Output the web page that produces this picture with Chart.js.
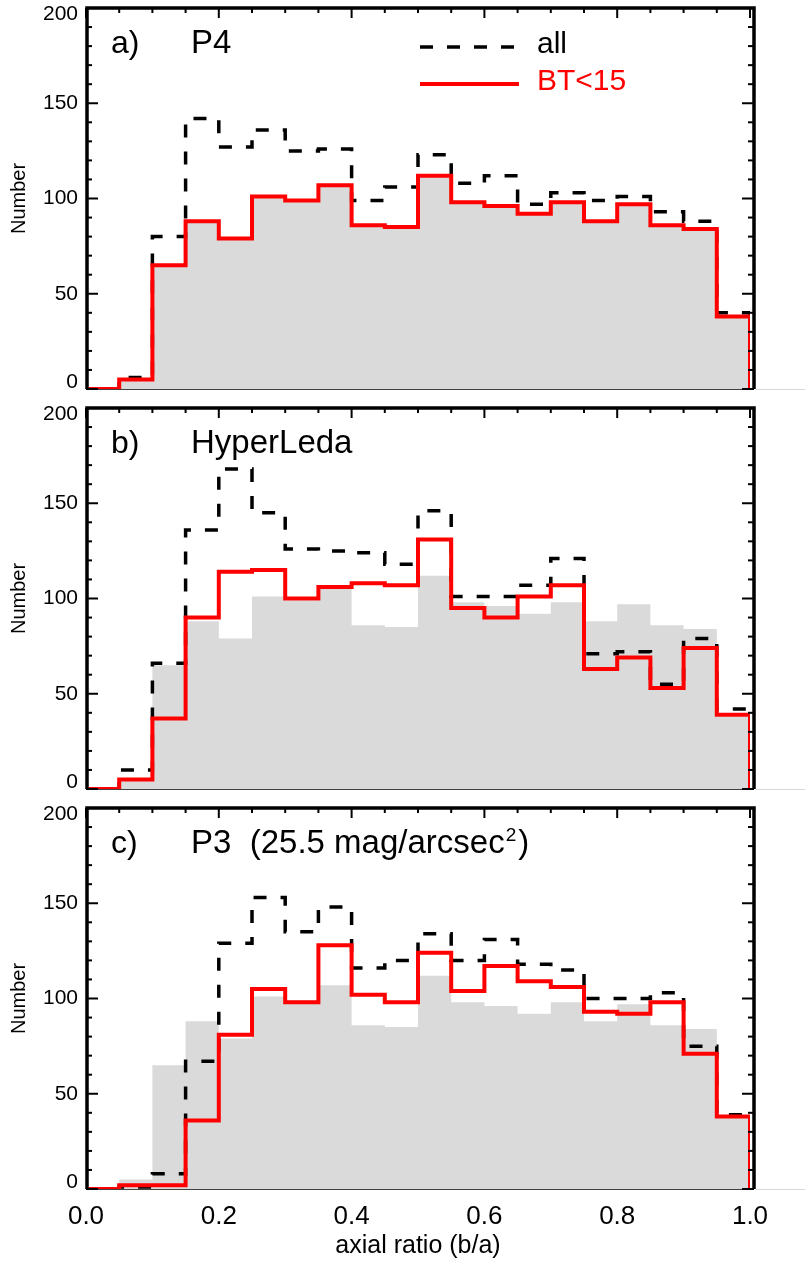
<!DOCTYPE html>
<html>
<head>
<meta charset="utf-8">
<script src="https://cdn.jsdelivr.net/npm/chart.js@4.4.1/dist/chart.umd.min.js"></script>
<style>
  body { margin: 0; background: #fff; }
  canvas { position: absolute; left: 0; }
</style>
</head>
<body>
<canvas id="panelA" width="805" height="400" style="top:0px"></canvas>
<canvas id="panelB" width="805" height="400" style="top:400px"></canvas>
<canvas id="panelC" width="805" height="464" style="top:800px"></canvas>
<script>
// bin left edges (bin width 0.05)
const binStart = [0.00, 0.05, 0.10, 0.15, 0.20, 0.25, 0.30, 0.35, 0.40, 0.45,
                  0.50, 0.55, 0.60, 0.65, 0.70, 0.75, 0.80, 0.85, 0.90, 0.95];
const binEnd = 1.0;

// P4 BT<15 (also the grey reference histogram in every panel)
const p4Bright = [0, 5, 65, 88, 79, 101, 99, 107, 86, 85, 112, 98, 96, 92, 98, 88, 97, 86, 84, 38];
const p4All    = [0, 6, 80, 142, 127, 136, 125, 126, 99, 106, 123, 108, 112, 97, 103, 99, 101, 93, 88, 40];

const hlBright = [0, 5, 37, 90, 114, 115, 100, 106, 108, 107, 131, 95, 90, 101, 107, 63, 69, 53, 74, 39];
const hlAll    = [0, 10, 66, 136, 168, 145, 126, 125, 124, 118, 146, 101, 101, 107, 121, 71, 72, 55, 79, 42];

const p3Bright = [0, 2, 2, 36, 81, 105, 98, 128, 102, 98, 124, 104, 117, 109, 106, 93, 92, 98, 71, 38];
const p3All    = [0, 1, 8, 67, 129, 153, 135, 148, 116, 120, 134, 120, 131, 118, 115, 100, 100, 103, 75, 39];

const yTicks = [0, 50, 100, 150, 200];
const xTicks = [0.0, 0.2, 0.4, 0.6, 0.8, 1.0];

const FONT = 'Liberation Sans, Arial, Helvetica, sans-serif';

function steps(values) {
    const pts = values.map((v, i) => ({ x: binStart[i], y: v }));
    pts.push({ x: binEnd, y: 0 });
    return pts;
}

function line(ctx, x1, y1, x2, y2) {
    ctx.beginPath();
    ctx.moveTo(x1, y1);
    ctx.lineTo(x2, y2);
    ctx.stroke();
}

// frame, inward ticks, panel texts and legend (IDL look)
const panelDecor = {
    id: 'panelDecor',
    beforeDatasetsDraw(chart) {
        const { ctx, chartArea: a } = chart;
        ctx.save();
        ctx.strokeStyle = '#000';
        ctx.lineWidth = 1.5;
        line(ctx, a.left, a.bottom, a.right + 4, a.bottom);
        ctx.strokeStyle = '#d8d8d8';
        ctx.lineWidth = 1;
        line(ctx, a.right + 6, a.bottom + 0.5, chart.width, a.bottom + 0.5);
        ctx.restore();
    },
    afterDatasetsDraw(chart, args, opts) {
        const { ctx, chartArea: a, scales: { x, y } } = chart;
        const right = a.right + 4;
        ctx.save();
        ctx.strokeStyle = '#000';
        ctx.lineWidth = 2;
        for (let v = y.min; v <= y.max; v += 10) {
            const py = y.getPixelForValue(v);
            const len = v % 50 === 0 ? 12 : 6;
            line(ctx, a.left, py, a.left + len, py);
            line(ctx, right, py, right - len, py);
        }
        for (let i = 0; i <= 20; i++) {
            const px = x.getPixelForValue(i * 0.05);
            const len = i % 4 === 0 ? 10 : 5;
            line(ctx, px, a.top, px, a.top + len);
        }
        ctx.lineWidth = 3.5;
        ctx.beginPath();
        ctx.moveTo(a.left + 1, a.bottom);
        ctx.lineTo(a.left + 1, a.top);
        ctx.lineTo(right, a.top);
        ctx.lineTo(right, a.bottom);
        ctx.stroke();

        ctx.fillStyle = '#000';
        ctx.textBaseline = 'alphabetic';
        ctx.font = '32px ' + FONT;
        ctx.fillText(opts.label, 111, a.top + 45);
        ctx.font = '33px ' + FONT;
        ctx.fillText(opts.title, 191, a.top + 45);
        if (opts.sup) {
            const w = ctx.measureText(opts.title).width;
            ctx.font = '19px ' + FONT;
            ctx.fillText(opts.sup, 191 + w + 1, a.top + 33);
            const ws = ctx.measureText(opts.sup).width;
            ctx.font = '33px ' + FONT;
            ctx.fillText(opts.tail, 191 + w + ws + 3, a.top + 45);
        }

        if (opts.legend) {
            const items = chart.data.datasets.filter(d => d.label).reverse();
            items.forEach((d, i) => {
                const ly = a.top + 39 + i * 37;
                ctx.strokeStyle = d.borderColor;
                ctx.lineWidth = d.borderWidth;
                ctx.setLineDash(d.borderDash || []);
                line(ctx, 420, ly, 519, ly);
                ctx.setLineDash([]);
                ctx.fillStyle = d.borderColor;
                ctx.font = '30px ' + FONT;
                ctx.fillText(d.label, 537, ly + 6);
            });
        }
        ctx.restore();
    }
};

// end labels sit inside the axis range (IDL style): pad them with an empty line
function yLabel(v) {
    if (v === 200) return ['', '200'];
    if (v === 0) return ['0', ''];
    return String(v);
}

function makePanel(id, bright, all, decor, showX) {
    new Chart(document.getElementById(id), {
        type: 'line',
        data: {
            datasets: [
                {
                    label: 'BT<15',
                    data: steps(bright),
                    borderColor: '#ff0000',
                    borderWidth: 4,
                    stepped: 'before',
                    pointRadius: 0,
                    fill: false,
                    order: 0
                },
                {
                    label: 'all',
                    data: steps(all),
                    borderColor: '#000000',
                    borderWidth: 3.5,
                    borderDash: [13, 14],
                    stepped: 'before',
                    pointRadius: 0,
                    fill: false,
                    order: 1
                },
                {
                    label: '',
                    data: steps(p4Bright),
                    borderWidth: 0,
                    borderColor: 'rgba(0,0,0,0)',
                    backgroundColor: '#dadada',
                    stepped: 'before',
                    pointRadius: 0,
                    fill: 'origin',
                    order: 2
                }
            ]
        },
        options: {
            responsive: false,
            animation: false,
            layout: { padding: { left: 0, right: 55, top: 8, bottom: showX ? 0 : 11 } },
            plugins: {
                legend: { display: false },
                tooltip: { enabled: false },
                panelDecor: decor
            },
            scales: {
                x: {
                    type: 'linear',
                    min: 0,
                    max: 1,
                    display: showX,
                    afterFit(scale) {
                        scale.height = showX ? 75 : 0;
                        scale.paddingLeft = 0;
                        scale.paddingRight = 0;
                    },
                    afterBuildTicks(scale) { scale.ticks = xTicks.map(v => ({ value: v })); },
                    grid: { display: false, drawTicks: false },
                    border: { display: false },
                    ticks: {
                        color: '#000',
                        padding: 12,
                        font: { family: FONT, size: 26 },
                        callback: v => v.toFixed(1)
                    },
                    title: {
                        display: true,
                        text: 'axial ratio (b/a)',
                        color: '#000',
                        font: { family: FONT, size: 25 },
                        padding: { top: 0, bottom: 3 }
                    }
                },
                y: {
                    min: 0,
                    max: 200,
                    afterFit(scale) {
                        scale.width = 86;
                        scale.paddingTop = 0;
                        scale.paddingBottom = 0;
                    },
                    afterBuildTicks(scale) { scale.ticks = yTicks.map(v => ({ value: v })); },
                    grid: { display: false, drawTicks: false },
                    border: { display: false },
                    ticks: {
                        color: '#000',
                        padding: 8,
                        font: { family: FONT, size: 21, lineHeight: 0.6 },
                        callback: yLabel
                    },
                    title: {
                        display: true,
                        text: 'Number',
                        color: '#000',
                        font: { family: FONT, size: 20 },
                        padding: { top: 7, bottom: 0 }
                    }
                }
            }
        },
        plugins: [panelDecor]
    });
}

makePanel('panelA', p4Bright, p4All, { label: 'a)', title: 'P4', legend: true }, false);
makePanel('panelB', hlBright, hlAll, { label: 'b)', title: 'HyperLeda' }, false);
makePanel('panelC', p3Bright, p3All, { label: 'c)', title: 'P3  (25.5 mag/arcsec', sup: '2', tail: ')' }, true);
</script>
</body>
</html>
